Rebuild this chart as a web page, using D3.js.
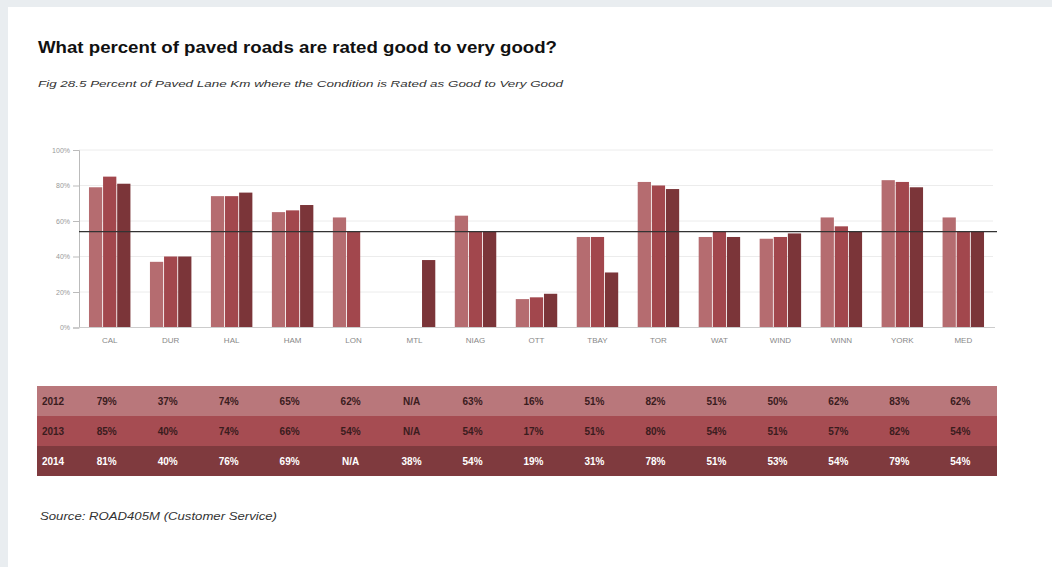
<!DOCTYPE html>
<html>
<head>
<meta charset="utf-8">
<script src="https://cdn.jsdelivr.net/npm/d3@7"></script>
<style>
  html, body { margin: 0; padding: 0; background: #e9edf0; }
  svg { display: block; }
</style>
</head>
<body>
<svg id="chart" width="1052" height="567"></svg>
<script>
const categories = ["CAL","DUR","HAL","HAM","LON","MTL","NIAG","OTT","TBAY","TOR","WAT","WIND","WINN","YORK","MED"];
const years = ["2012","2013","2014"];
const values2012 = [79,37,74,65,62,null,63,16,51,82,51,50,62,83,62];
const values2013 = [85,40,74,66,54,null,54,17,51,80,54,51,57,82,54];
const values2014 = [81,40,76,69,null,38,54,19,31,78,51,53,54,79,54];
const medianValue = 54;
const yTicks = [0,20,40,60,80,100];

const series = [values2012, values2013, values2014];
const barColors = ["#b56c70", "#a2474d", "#7b3539"];
const rowColors = ["#b9777b", "#a64c52", "#7f3a3e"];
const rowText = ["#3a1c1e", "#3a1c1e", "#ffffff"];

const svg = d3.select("#chart");

// white panel
svg.append("rect").attr("x", 8).attr("y", 7).attr("width", 1044).attr("height", 560).attr("fill", "#ffffff");

// titles
svg.append("text").attr("x", 38).attr("y", 53)
  .attr("font-family", "Liberation Sans, Arial, sans-serif").attr("font-size", 16).attr("font-weight", "bold")
  .attr("fill", "#111").attr("textLength", 519).attr("lengthAdjust", "spacingAndGlyphs")
  .text("What percent of paved roads are rated good to very good?");
svg.append("text").attr("x", 38).attr("y", 87)
  .attr("font-family", "Liberation Sans, Arial, sans-serif").attr("font-size", 9.5).attr("font-style", "italic")
  .attr("fill", "#333").attr("textLength", 525).attr("lengthAdjust", "spacingAndGlyphs")
  .text("Fig 28.5  Percent of Paved Lane Km where the Condition is Rated as Good to Very Good");

// scales
const x = d3.scaleBand().domain(categories).range([78, 995]).paddingInner(0.32).paddingOuter(0.18);
const xs = d3.scaleBand().domain(years).range([0, x.bandwidth()]).paddingInner(0.06);
const y = d3.scaleLinear().domain([0, 100]).range([327.5, 150]);

// gridlines
svg.append("g").selectAll("line").data(yTicks.filter(d => d > 0)).join("line")
  .attr("x1", 79).attr("x2", 993).attr("y1", d => y(d)).attr("y2", d => y(d))
  .attr("stroke", "#ececec").attr("stroke-width", 1);

// y axis
const yAxis = svg.append("g").attr("transform", "translate(79,0)")
  .call(d3.axisLeft(y).tickValues(yTicks).tickFormat(d => d + "%").tickSize(6).tickPadding(3));
yAxis.select(".domain").attr("stroke", "#bbb");
yAxis.selectAll(".tick line").attr("stroke", "#bbb");
yAxis.selectAll("text").attr("font-family", "Liberation Sans, Arial, sans-serif").attr("font-size", 7).attr("fill", "#999");

// bars
const groups = svg.append("g").selectAll("g").data(categories).join("g")
  .attr("transform", d => `translate(${x(d)},0)`);
years.forEach((yr, i) => {
  groups.filter((d, j) => series[i][j] !== null)
    .append("rect")
    .attr("x", xs(yr))
    .attr("width", xs.bandwidth())
    .attr("y", d => y(series[i][categories.indexOf(d)]))
    .attr("height", d => y(0) - y(series[i][categories.indexOf(d)]))
    .attr("fill", barColors[i]);
});

// x axis
const xAxis = svg.append("g").attr("transform", `translate(0,${y(0)})`)
  .call(d3.axisBottom(x).tickSize(0).tickPadding(10));
xAxis.select(".domain").attr("stroke", "#ccc").attr("d", `M79,0H995`);
xAxis.selectAll("text").attr("font-family", "Liberation Sans, Arial, sans-serif").attr("font-size", 8).attr("fill", "#888");

// median line
svg.append("line").attr("x1", 79).attr("x2", 997).attr("y1", y(medianValue)).attr("y2", y(medianValue))
  .attr("stroke", "#333").attr("stroke-width", 1.3);

// table
const rowY = d3.scaleBand().domain(years).range([386, 476]);
const table = svg.append("g");
years.forEach((yr, i) => {
  table.append("rect").attr("x", 37).attr("y", rowY(yr)).attr("width", 960).attr("height", rowY.bandwidth())
    .attr("fill", rowColors[i]);
  table.append("text").attr("x", 53).attr("y", rowY(yr) + rowY.bandwidth() / 2 + 3.5)
    .attr("text-anchor", "middle").attr("font-family", "Liberation Sans, Arial, sans-serif")
    .attr("font-size", 10).attr("font-weight", "bold").attr("fill", rowText[i]).text(yr);
  table.selectAll(null).data(categories).join("text")
    .attr("x", d => x(d) + x.bandwidth() / 2 - 3)
    .attr("y", rowY(yr) + rowY.bandwidth() / 2 + 3.5)
    .attr("text-anchor", "middle").attr("font-family", "Liberation Sans, Arial, sans-serif")
    .attr("font-size", 10).attr("font-weight", "bold").attr("fill", rowText[i])
    .text((d, j) => series[i][j] === null ? "N/A" : series[i][j] + "%");
});

// source
svg.append("text").attr("x", 40).attr("y", 520)
  .attr("font-family", "Liberation Sans, Arial, sans-serif").attr("font-size", 10).attr("font-style", "italic")
  .attr("fill", "#333").attr("textLength", 237).attr("lengthAdjust", "spacingAndGlyphs")
  .text("Source: ROAD405M (Customer Service)");
</script>
</body>
</html>
